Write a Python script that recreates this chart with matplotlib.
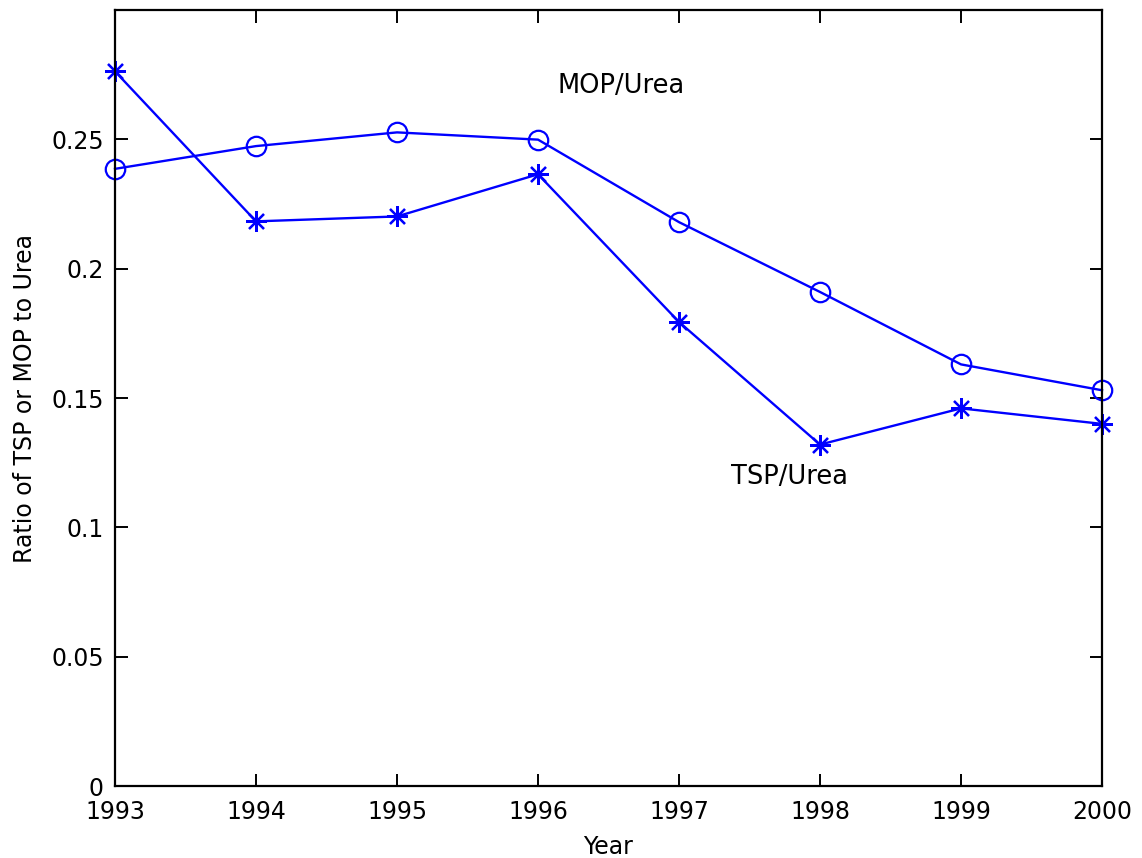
import matplotlib
matplotlib.use("Agg")
import matplotlib.pyplot as plt

# data
years = [1993, 1994, 1995, 1996, 1997, 1998, 1999, 2000]
tsp_urea = [0.2763, 0.2183, 0.2202, 0.2365, 0.1794, 0.1320, 0.1460, 0.1400]
mop_urea = [0.2386, 0.2474, 0.2527, 0.2499, 0.2180, 0.1910, 0.1630, 0.1530]
yticks = [0, 0.05, 0.1, 0.15, 0.2, 0.25]
ytick_labels = ["0", "0.05", "0.1", "0.15", "0.2", "0.25"]

plt.rcParams['font.family'] = ['DejaVu Sans']
fig = plt.figure(figsize=(11.42, 8.58), dpi=100)
ax = fig.add_axes([0.1007, 0.0839, 0.8643, 0.9044])

ax.plot(years, mop_urea, color='#0000ff', lw=1.7, marker='o', ms=14,
        mfc='none', mec='#0000ff', mew=1.6, clip_on=False)
ax.plot(years, tsp_urea, color='#0000ff', lw=1.7, marker=(8, 2, 0), ms=15,
        mec='#0000ff', mew=1.6, clip_on=False)

ax.text(1996.14, 0.2705, 'MOP/Urea', fontsize=18.5, va='center', ha='left')
ax.text(1997.37, 0.1195, 'TSP/Urea', fontsize=18.5, va='center', ha='left')

ax.set_xlim(1993, 2000)
ax.set_ylim(0, 0.3)
ax.set_xticks(years)
ax.set_yticks(yticks)
ax.set_yticklabels(ytick_labels)
ax.tick_params(direction='in', length=9, width=1.4, labelsize=17,
               top=True, right=True, colors='black')
ax.tick_params(axis='x', pad=10)
ax.tick_params(axis='y', pad=8)
for s in ax.spines.values():
    s.set_linewidth(1.6)
ax.set_xlabel('Year', fontsize=17, labelpad=8)
ax.set_ylabel('Ratio of TSP or MOP to Urea', fontsize=17, labelpad=10)

fig.savefig('out.png', dpi=100)
